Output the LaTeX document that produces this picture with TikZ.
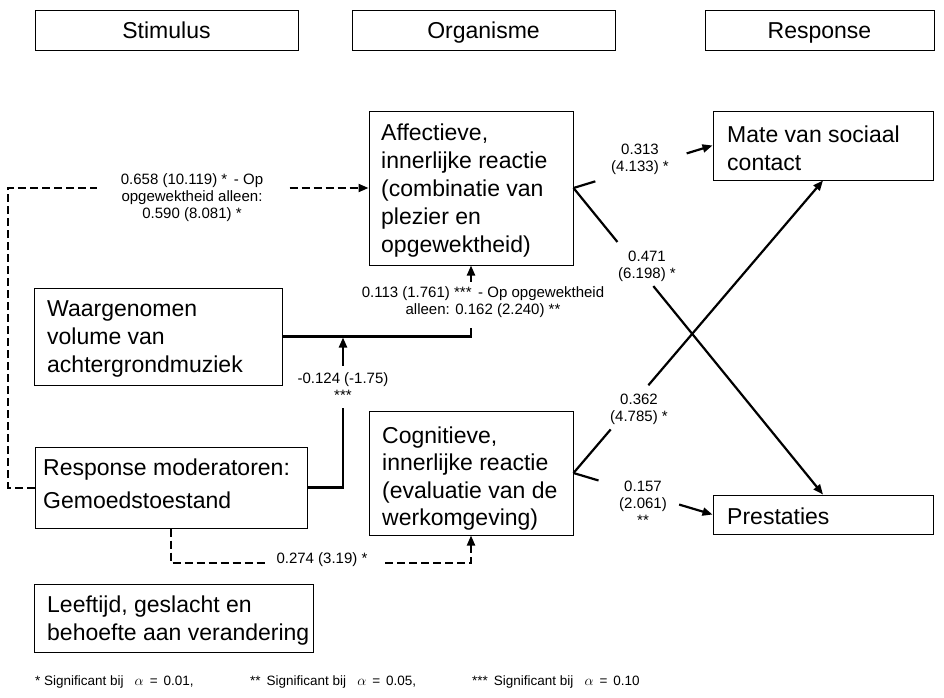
\documentclass[tikz,border=0pt]{standalone}
\usepackage{fontspec}
\setmainfont{Liberation Sans}
\usetikzlibrary{calc,arrows.meta}
\begin{document}
\begin{tikzpicture}[x=1pt,y=-1pt,
  box/.style={draw,line width=1pt,inner sep=0pt,font=\fontsize{23}{28}\selectfont},
  hbox/.style={box,minimum height=40pt,text height=16.5pt,text depth=0.5pt},
  btxt/.style={anchor=north west,inner sep=0pt,font=\fontsize{23}{28}\selectfont,align=left},
  lab/.style={anchor=north,inner sep=0pt,font=\fontsize{15}{17}\selectfont,align=center},
  foot/.style={anchor=base west,inner sep=0pt,font=\fontsize{13.5}{15}\selectfont},
  conn/.style={line width=2.2pt},
  dconn/.style={line width=2pt,dash pattern=on 8pt off 4pt},
  arr/.style={-{Triangle[length=10pt,width=8pt]}},
]
\useasboundingbox (0,0) rectangle (944,697);

% header boxes
\node[hbox,minimum width=263pt] (hs) at (166.5,30) {Stimulus};
\node[hbox,minimum width=263pt] (ho) at (483.5,30) {Organisme};
\node[hbox,minimum width=229pt] (hr) at (819.5,30) {Response};

% content boxes
\node[box,minimum width=204pt,minimum height=154pt] (aff) at (471,188) {};
\node[btxt] (afft) at (381,123.5) {Affectieve,\\innerlijke reactie\\(combinatie van\\plezier en\\opgewektheid)};

\node[box,minimum width=204pt,minimum height=124pt] (cog) at (471,473) {};
\node[btxt,font=\fontsize{23}{27.4}\selectfont] (cogt) at (382,426.5) {Cognitieve,\\innerlijke reactie\\(evaluatie van de\\werkomgeving)};

\node[box,minimum width=248pt,minimum height=97pt] (waar) at (158,336.5) {};
\node[btxt] (waart) at (47,300.5) {Waargenomen\\volume van\\achtergrondmuziek};

\node[box,minimum width=272pt,minimum height=81pt] (rm) at (171,487.5) {};
\node[btxt,font=\fontsize{23}{33}\selectfont] (rmt) at (43,458.5) {Response moderatoren:\\Gemoedstoestand};

\node[box,minimum width=279pt,minimum height=68pt] (lf) at (173.5,618) {};
\node[btxt] (lft) at (47,595.5) {Leeftijd, geslacht en\\behoefte aan verandering};

\node[box,minimum width=220pt,minimum height=69pt] (mate) at (823,145.5) {};
\node[btxt] (matet) at (727,125.5) {Mate van sociaal\\contact};

\node[box,minimum width=220pt,minimum height=39pt] (prest) at (823,514.5) {};
\node[btxt] (prestt) at (727,507.5) {Prestaties};

% right-hand connectors
\draw[conn] (aff.east) -- ($(aff.east)!0.157!(mate.west)$);
\draw[conn,arr] ($(aff.east)!0.814!(mate.west)$) -- (mate.west);
\draw[conn] (aff.east) -- ($(aff.east)!0.176!(prest.north)$);
\draw[conn,arr] ($(aff.east)!0.32!(prest.north)$) -- (prest.north);
\draw[conn] (cog.east) -- ($(cog.east)!0.149!(mate.south)$);
\draw[conn,arr] ($(cog.east)!0.3!(mate.south)$) -- (mate.south);
\draw[conn] (cog.east) -- ($(cog.east)!0.18!(prest.west)$);
\draw[conn,arr] ($(cog.east)!0.76!(prest.west)$) -- (prest.west);

\node[lab] (l313) at (640,144) {0.313\\(4.133) *};
\node[lab] (l471) at (647,251) {0.471\\(6.198) *};
\node[lab] (l362) at (639,394) {0.362\\(4.785) *};
\node[lab] (l157) at (643,481) {0.157\\(2.061)\\**};

% volume -> affective
\coordinate (vj) at (waar.east -| aff.south);
\draw[conn] (waar.east) -- (vj) -- ($(vj)+(0,-9)$);
\draw[conn,arr] ($(aff.south)+(0,16)$) -- (aff.south);
\node[lab] (l113) at (483,286) {0.113 (1.761) *** \,- Op opgewektheid\\alleen: 0.162 (2.240) **};

% moderator
\coordinate (mj) at (343,336.5);
\draw[conn] (rm.east) -- (rm.east -| mj) -- ($(rm.east -| mj)+(0,-80)$);
\draw[conn,arr] ($(mj)+(0,29)$) -- ($(mj)+(0,1)$);
\node[lab] (l124) at (343,372) {-0.124 (-1.75)\\***};

% dashed moderator -> affective
\draw[dconn] (rm.west) -| (8,188) -- (97,188);
\draw[dconn,arr] ($(aff.west)+(-79,0)$) -- (aff.west);
\node[lab] (l658) at (192,173) {0.658 (10.119) * \,- Op\\opgewektheid alleen:\\0.590 (8.081) *};

% dashed moderator -> cognitive
\draw[dconn] (rm.south) -- ++(0,34.5) -- ++(96,0);
\draw[dconn,arr] ($(cog.south)+(-86,27)$) -| (cog.south);
\node[lab] (l274) at (322,552) {0.274 (3.19) *};

% footnote
\node[foot] (f1) at (35,685) {* Significant bij\hspace{11pt}$\alpha$\hspace{6pt}=\hspace{6pt}0.01,};
\node[foot] (f2) at (250,685) {** \,Significant bij\hspace{11pt}$\alpha$\hspace{6pt}=\hspace{6pt}0.05,};
\node[foot] (f3) at (472,685) {*** \,Significant bij\hspace{11pt}$\alpha$\hspace{6pt}=\hspace{6pt}0.10};
\end{tikzpicture}
\end{document}
